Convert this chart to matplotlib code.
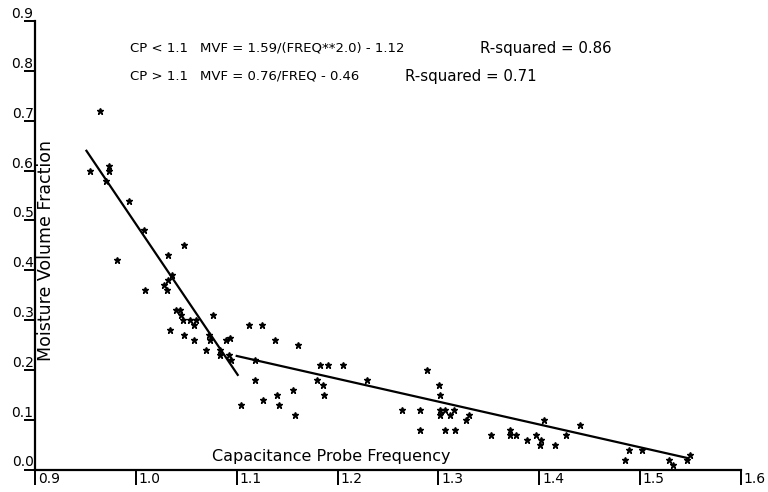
import matplotlib
matplotlib.use('Agg')
import matplotlib.pyplot as plt
import matplotlib.transforms as mtransforms

# Capacitance probe frequency vs moisture volume fraction
freq = [0.964, 0.955, 0.973, 0.973, 0.970, 0.993, 1.008, 0.981, 1.009,
        1.048, 1.032, 1.036, 1.032, 1.028, 1.031, 1.040, 1.044, 1.045,
        1.047, 1.054, 1.060, 1.058, 1.076, 1.034, 1.048, 1.058, 1.073,
        1.074, 1.093, 1.089, 1.070, 1.083, 1.083, 1.092, 1.094,
        1.112, 1.125, 1.138, 1.161, 1.118, 1.118, 1.183, 1.191, 1.205,
        1.180, 1.186, 1.156, 1.140, 1.187, 1.126, 1.104, 1.142, 1.158,
        1.229, 1.289, 1.301, 1.302, 1.264, 1.282, 1.302, 1.307, 1.315,
        1.302, 1.311, 1.330, 1.327, 1.282, 1.307, 1.316, 1.352, 1.371,
        1.371, 1.377, 1.405, 1.440, 1.397, 1.388, 1.402, 1.401, 1.416,
        1.426, 1.489, 1.502, 1.485, 1.529, 1.533, 1.546, 1.549]
mvf = [0.72, 0.60, 0.61, 0.60, 0.58, 0.54, 0.48, 0.42, 0.36,
       0.45, 0.43, 0.39, 0.38, 0.37, 0.36, 0.32, 0.32, 0.31,
       0.30, 0.30, 0.30, 0.29, 0.31, 0.28, 0.27, 0.26, 0.27,
       0.26, 0.265, 0.26, 0.24, 0.24, 0.23, 0.23, 0.22,
       0.29, 0.29, 0.26, 0.25, 0.22, 0.18, 0.21, 0.21, 0.21,
       0.18, 0.17, 0.16, 0.15, 0.15, 0.14, 0.13, 0.13, 0.11,
       0.18, 0.20, 0.17, 0.15, 0.12, 0.12, 0.12, 0.12, 0.12,
       0.11, 0.11, 0.11, 0.10, 0.08, 0.08, 0.08, 0.07, 0.08,
       0.07, 0.07, 0.10, 0.09, 0.07, 0.06, 0.06, 0.05, 0.05,
       0.07, 0.04, 0.04, 0.02, 0.02, 0.01, 0.02, 0.03]

# fitted lines as drawn (straight segments between end points)
low_fit_x = [0.951, 1.101]    # CP < 1.1
low_fit_y = [0.640, 0.190]
high_fit_x = [1.100, 1.547]   # CP > 1.1
high_fit_y = [0.228, 0.023]

xticks = [0.9, 1.0, 1.1, 1.2, 1.3, 1.4, 1.5, 1.6]
yticks = [0.0, 0.1, 0.2, 0.3, 0.4, 0.5, 0.6, 0.7, 0.8, 0.9]

fig = plt.figure(figsize=(7.68, 4.92), dpi=100)
ax = fig.add_axes([35/768, 1 - 469.5/492, (741 - 35)/768, (469.5 - 21.3)/492])

ax.plot(freq, mvf, ls='none', marker='*', ms=5, color='black')
ax.plot(low_fit_x, low_fit_y, color='black', lw=1.6)
ax.plot(high_fit_x, high_fit_y, color='black', lw=1.6)

ax.set_xlim(0.9, 1.6)
ax.set_ylim(0.0, 0.9)
for s in ['top', 'right']:
    ax.spines[s].set_visible(False)
for s in ['left', 'bottom']:
    ax.spines[s].set_linewidth(1.6)

ax.set_xticks(xticks)
ax.set_xticklabels(['%.1f' % v for v in xticks])
ax.set_yticks(yticks)
ax.set_yticklabels(['%.1f' % v for v in yticks])
ax.tick_params(axis='x', direction='out', length=11, width=1.4, pad=-9, labelsize=10)
ax.tick_params(axis='y', direction='out', length=8, width=1.4, pad=-7, labelsize=10)
shift = mtransforms.ScaledTranslation(2/72, 0, fig.dpi_scale_trans)
for lab in ax.get_xticklabels():
    lab.set_ha('left')
    lab.set_transform(lab.get_transform() + shift)
for lab in ax.get_yticklabels():
    lab.set_va('bottom')

ax.text(0.25, 0.03, 'Capacitance Probe Frequency', transform=ax.transAxes,
        fontsize=11.5, ha='left', va='center')
ax.text(0.016, 0.488, 'Moisture Volume Fraction', transform=ax.transAxes,
        fontsize=12.5, rotation=90, ha='center', va='center')

ax.text(0.994, 0.846, 'CP < 1.1', fontsize=9.5, va='center')
ax.text(1.064, 0.846, 'MVF = 1.59/(FREQ**2.0) - 1.12', fontsize=9.5, va='center')
ax.text(1.341, 0.846, 'R-squared = 0.86', fontsize=10.8, va='center')
ax.text(0.994, 0.79, 'CP > 1.1', fontsize=9.5, va='center')
ax.text(1.064, 0.79, 'MVF = 0.76/FREQ - 0.46', fontsize=9.5, va='center')
ax.text(1.267, 0.79, 'R-squared = 0.71', fontsize=10.8, va='center')

plt.savefig('out.png', dpi=100)
